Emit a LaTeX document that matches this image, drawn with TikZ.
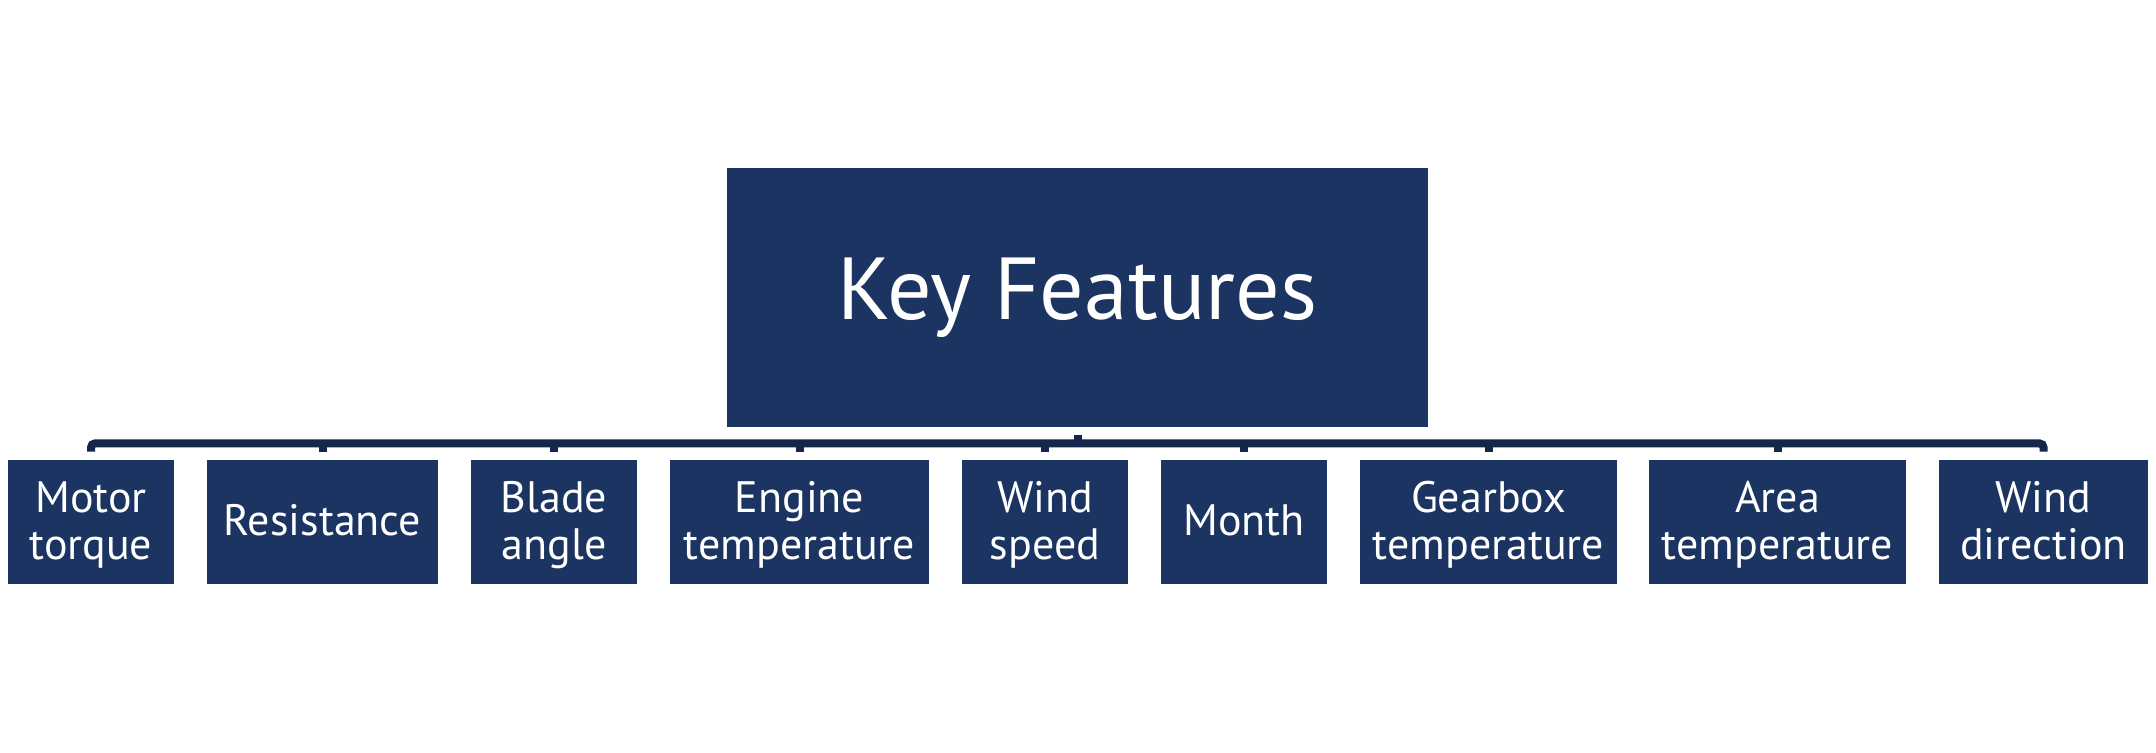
\documentclass[tikz,border=0pt]{standalone}
\usepackage{fontspec}
\setmainfont{PT Sans}
\definecolor{boxblue}{HTML}{1C3461}
\definecolor{linkblue}{HTML}{14274A}
\newcommand\topst{\rule{0pt}{20.5pt}}
\newcommand\botst{\rule[-7pt]{0pt}{7pt}}
\begin{document}
\begin{tikzpicture}[x=0.5pt,y=-0.5pt,
  child/.style={fill=boxblue, draw=none, text=white, inner sep=0pt, align=center,
    minimum height=62pt, font=\fontsize{22}{23.5}\selectfont},
  parent/.style={fill=boxblue, draw=none, text=white, inner sep=0pt,
    minimum width=350.5pt, minimum height=129.5pt, font=\fontsize{44}{48}\selectfont},
  conn/.style={draw=linkblue, line width=4pt}]
\useasboundingbox (0,0) rectangle (2156,752);
\node[parent] (kf) at (1077.5,297.5) {Key Features};
\node[child, minimum width=83pt]    (c1) at (91,522)     {\topst Motor\\torque\botst};
\node[child, minimum width=115.5pt] (c2) at (322.5,522)  {\topst Resistance\botst};
\node[child, minimum width=83pt]    (c3) at (554,522)    {\topst Blade\\angle\botst};
\node[child, minimum width=129.5pt] (c4) at (799.5,522)  {\topst Engine\\temperature\botst};
\node[child, minimum width=83pt]    (c5) at (1045,522)   {\topst Wind\\speed\botst};
\node[child, minimum width=83pt]    (c6) at (1244,522)   {\topst Month\botst};
\node[child, minimum width=128.5pt] (c7) at (1488.5,522) {\topst Gearbox\\temperature\botst};
\node[child, minimum width=128.5pt] (c8) at (1777.5,522) {\topst Area\\temperature\botst};
\node[child, minimum width=104.5pt] (c9) at (2043.5,522) {\topst Wind\\direction\botst};
\coordinate (bar) at ([yshift=-8pt]kf.south);
\draw[conn, rounded corners=2pt] ([yshift=4pt]c1.north) |- (bar) -| ([yshift=4pt]c9.north);
\draw[conn] ([yshift=-4pt]kf.south) -- (bar);
\foreach \c in {c2,c3,c4,c5,c6,c7,c8}{
  \draw[conn] ([yshift=4pt]\c.north) -- (\c.north |- bar);
}
\end{tikzpicture}
\end{document}
